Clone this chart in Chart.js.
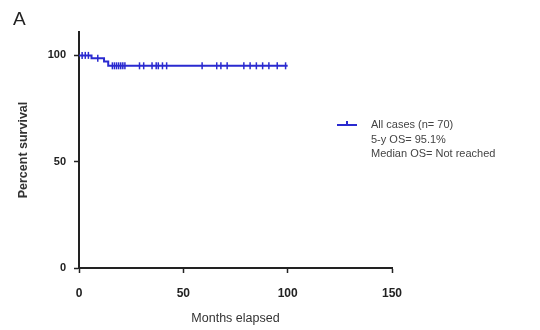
<!DOCTYPE html>
<html>
<head>
<meta charset="utf-8">
<script src="https://cdn.jsdelivr.net/npm/chart.js@4"></script>
<style>
  html, body { margin: 0; padding: 0; background: #fff; }
  #wrap { width: 540px; height: 330px; position: relative; }
</style>
</head>
<body>
<div id="wrap"><canvas id="chartjs"></canvas></div>
<script>
// Kaplan-Meier steps (months, percent)
const kmMonths = [0, 6, 12, 14, 100]
const kmSurvival = [100, 98.6, 97.1, 95.1, 95.1]
// censored cases
const censorMonths = [1.5, 3, 4.5, 9, 16, 17, 18, 19, 20, 21, 22, 29, 31, 35, 37, 38, 40, 42, 59, 66, 68, 71, 79, 82, 85, 88, 91, 95, 99]
const censorSurvival = [100, 100, 100, 98.6, 95.1, 95.1, 95.1, 95.1, 95.1, 95.1, 95.1, 95.1, 95.1, 95.1, 95.1, 95.1, 95.1, 95.1, 95.1, 95.1, 95.1, 95.1, 95.1, 95.1, 95.1, 95.1, 95.1, 95.1, 95.1]
const xTicks = [0, 50, 100, 150]
const yTicks = [0, 50, 100]
const legendLines = ["All cases (n= 70)", "5-y OS= 95.1%", "Median OS= Not reached"]

const blue = "#2a2ad0"
const axisColor = "#222"

const extras = {
    id: "extras",
    afterDraw(chart) {
        const c = chart.ctx
        c.save()
        c.fillStyle = "#222"
        c.font = "19px 'Liberation Sans', Arial, sans-serif"
        c.textBaseline = "middle"
        c.fillText("A", 13, 20)
        // legend
        c.strokeStyle = blue
        c.lineWidth = 2
        c.beginPath()
        c.moveTo(337, 125); c.lineTo(357, 125)
        c.moveTo(347, 121); c.lineTo(347, 125)
        c.stroke()
        c.fillStyle = "#444"
        c.font = "11px 'Liberation Sans', Arial, sans-serif"
        legendLines.forEach((t, i) => c.fillText(t, 371, 125 + i * 14.5))
        c.restore()
    }
}

window.addEventListener("load", () => {
    const ctx = document.getElementById("chartjs")
    new Chart(ctx, {
        type: "line",
        data: {
            datasets: [{
                label: "All cases",
                data: kmMonths.map((m, i) => ({ x: m, y: kmSurvival[i] })),
                stepped: true,
                borderColor: blue,
                borderWidth: 2,
                pointRadius: 0,
                fill: false
            }, {
                label: "Censored",
                data: censorMonths.map((m, i) => ({ x: m, y: censorSurvival[i] })),
                showLine: false,
                pointStyle: "line",
                rotation: 90,
                pointRadius: 3.5,
                borderColor: blue,
                borderWidth: 1.5
            }]
        },
        options: {
            responsive: true,
            maintainAspectRatio: false,
            animation: false,
            layout: { padding: { top: 32, right: 148, left: 0, bottom: 0 } },
            plugins: { legend: { display: false }, tooltip: { enabled: false } },
            scales: {
                x: {
                    type: "linear",
                    min: 0, max: 150,
                    afterBuildTicks: s => { s.ticks = xTicks.map(v => ({ value: v })) },
                    afterFit: s => { s.height = 62 },
                    grid: { drawOnChartArea: false, color: axisColor, tickLength: 5, tickWidth: 1.5 },
                    border: { color: axisColor, width: 2 },
                    ticks: { color: "#222", padding: 13, font: { size: 12, weight: "bold", family: "'Liberation Sans', Arial, sans-serif" } },
                    title: { display: true, text: "Months elapsed", color: "#333", padding: { top: 0 }, font: { size: 12.5, family: "'Liberation Sans', Arial, sans-serif" } }
                },
                y: {
                    min: 0, max: 111,
                    afterBuildTicks: s => { s.ticks = yTicks.map(v => ({ value: v })) },
                    afterFit: s => { s.width = 79 },
                    grid: { drawOnChartArea: false, color: axisColor, tickLength: 5, tickWidth: 1.5 },
                    border: { color: axisColor, width: 2 },
                    ticks: { color: "#222", padding: 8, font: { size: 11, weight: "bold", family: "'Liberation Sans', Arial, sans-serif" } },
                    title: { display: true, text: "Percent survival", color: "#333", padding: { top: 16, bottom: 0 }, font: { size: 12.5, weight: "bold", family: "'Liberation Sans', Arial, sans-serif" } }
                }
            }
        },
        plugins: [extras]
    })
})
</script>
</body>
</html>
